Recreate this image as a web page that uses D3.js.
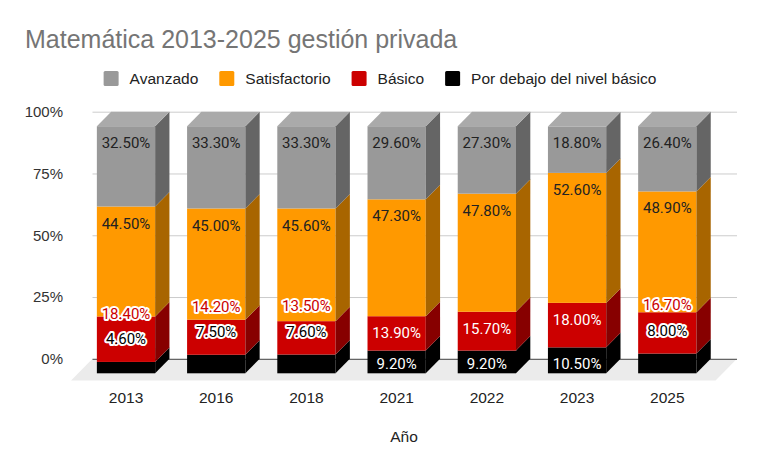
<!DOCTYPE html>
<html>
<head>
<meta charset="utf-8">
<script src="https://cdn.jsdelivr.net/npm/d3@7"></script>
<style>
  body { margin: 0; background: #fff; }
  svg { display: block; font-family: "Liberation Sans", Arial, sans-serif; }
</style>
</head>
<body>
<svg id="chart" width="760" height="470"></svg>
<script>
var years = ["2013", "2016", "2018", "2021", "2022", "2023", "2025"];

// porcentajes por nivel (de abajo hacia arriba en la pila)
var debajo        = [4.6, 7.5, 7.6, 9.2, 9.2, 10.5, 8.0];
var basico        = [18.4, 14.2, 13.5, 13.9, 15.7, 18.0, 16.7];
var satisfactorio = [44.5, 45.0, 45.6, 47.3, 47.8, 52.6, 48.9];
var avanzado      = [32.5, 33.3, 33.3, 29.6, 27.3, 18.8, 26.4];

var seriesKeys   = ["debajo", "basico", "satisfactorio", "avanzado"];
var seriesNames  = ["Por debajo del nivel básico", "Básico", "Satisfactorio", "Avanzado"];
var seriesColors = ["#000000", "#cc0000", "#ff9900", "#999999"];
var legendOrder  = ["avanzado", "satisfactorio", "basico", "debajo"];
var yTicks = [0, 25, 50, 75, 100];

var svg = d3.select("#chart");

var depthX = 14.3, depthY = 14.5;
var wallLeft = 92.5, wallRight = 737;

var rows = years.map(function(y, i) {
  return { year: y, debajo: debajo[i], basico: basico[i], satisfactorio: satisfactorio[i], avanzado: avanzado[i] };
});
var stacked = d3.stack().keys(seriesKeys)(rows);

var x = d3.scaleBand().domain(years).range([80.9, 712.4]).paddingInner(0.354).paddingOuter(0.177);
var yBack = d3.scaleLinear().domain([0, 100]).range([358.8, 111.7]);
var yFront = function(v) { return yBack(v) + depthY; };

var colorOf = d3.scaleOrdinal().domain(seriesKeys).range(seriesColors);
var nameOf = d3.scaleOrdinal().domain(seriesKeys).range(seriesNames);

// piso
var floorY = yBack(0);
svg.append("polygon")
  .attr("points", [
    [wallLeft, floorY], [wallRight, floorY],
    [wallRight - depthX * 1.5, floorY + depthY * 1.5], [wallLeft - depthX * 1.5, floorY + depthY * 1.5]
  ].join(" "))
  .attr("fill", "#ebebeb");

// grilla + eje y
var yAxis = d3.axisLeft(yBack).tickValues(yTicks)
  .tickFormat(function(d) { return d + "%"; })
  .tickSize(-(wallRight - wallLeft)).tickPadding(29.5);
var gy = svg.append("g").attr("transform", "translate(" + wallLeft + ",0)").call(yAxis);
gy.select(".domain").remove();
gy.selectAll(".tick line").attr("stroke", function(d) { return d === 0 ? "#444" : "#cccccc"; });
gy.selectAll(".tick text")
  .attr("font-size", 15).attr("fill", "#333")
  .attr("font-family", "'Liberation Sans', Arial, sans-serif");

var shade = function(c, k) {
  var h = d3.rgb(c);
  return d3.rgb(h.r * k, h.g * k, h.b * k).toString();
};

// barras 3D
var bars = svg.append("g");
years.forEach(function(yr, i) {
  var xL = x(yr), xR = x(yr) + x.bandwidth();
  var g = bars.append("g");
  stacked.forEach(function(s) {
    var v0 = s[i][0], v1 = s[i][1];
    var yT = yFront(v1), yB = yFront(v0);
    var c = colorOf(s.key);
    g.append("rect")
      .attr("x", xL).attr("y", yT)
      .attr("width", xR - xL).attr("height", yB - yT)
      .attr("fill", c);
    g.append("polygon")
      .attr("points", [[xR, yT], [xR + depthX, yT - depthY], [xR + depthX, yB - depthY], [xR, yB]].join(" "))
      .attr("fill", shade(c, 0.66));
  });
  var top = stacked[stacked.length - 1][i][1];
  var yTop = yFront(top);
  g.append("polygon")
    .attr("points", [[xL, yTop], [xR, yTop], [xR + depthX, yTop - depthY], [xL + depthX, yTop - depthY]].join(" "))
    .attr("fill", d3.rgb(colorOf("avanzado")).brighter(0.3).toString());
});

// etiquetas de datos
var fmt = d3.format(".2f");
var labelColorInside = { debajo: "#ffffff", basico: "#ffffff", satisfactorio: "#222222", avanzado: "#222222" };
var labels = svg.append("g").attr("font-family", "Roboto, sans-serif").attr("font-size", 15).attr("text-anchor", "middle");

years.forEach(function(yr, i) {
  var cx = x(yr) + x.bandwidth() / 2;
  var prev = null;
  stacked.forEach(function(s) {
    var v0 = s[i][0], v1 = s[i][1];
    var yT = yFront(v1), yB = yFront(v0);
    var lab = { key: s.key, halo: false };
    if (yB - yT >= 21) {
      lab.cy = Math.min(yT + 16.7, yB - 10);
    } else {
      lab.cy = yT - depthY - 8.5;
      lab.halo = true;
    }
    if (prev && prev.cy - lab.cy < 25.5) {
      lab.cy = prev.cy - 25.5;
      lab.halo = true;
    }
    prev = lab;

    var t = labels.append("text")
      .attr("x", cx).attr("y", lab.cy).attr("dy", "0.355em")
      .text(fmt(s[i].data[s.key]) + "%");
    if (lab.halo) {
      t.attr("fill", colorOf(s.key))
        .attr("stroke", "#ffffff").attr("stroke-width", 4)
        .attr("stroke-linejoin", "round").attr("paint-order", "stroke");
    } else {
      t.attr("fill", labelColorInside[s.key]);
    }
  });
});

// eje x
var xAxis = d3.axisBottom(x).tickSize(0).tickPadding(11);
var gx = svg.append("g").attr("transform", "translate(0," + (floorY + depthY * 1.5) + ")").call(xAxis);
gx.select(".domain").remove();
gx.selectAll(".tick text")
  .attr("font-size", 15.5).attr("fill", "#222")
  .attr("font-family", "'Liberation Sans', Arial, sans-serif");

svg.append("text")
  .attr("x", 404).attr("y", 442)
  .attr("text-anchor", "middle")
  .attr("font-size", 15.5).attr("fill", "#222")
  .text("Año");

// título
svg.append("text")
  .attr("x", 25).attr("y", 47.7)
  .attr("font-size", 25).attr("fill", "#757575")
  .text("Matemática 2013-2025 gestión privada");

// leyenda
var legend = svg.append("g");
var lx = 0;
legendOrder.forEach(function(k) {
  var item = legend.append("g").attr("transform", "translate(" + lx + ",0)");
  item.append("rect")
    .attr("x", 0).attr("y", 71).attr("width", 15).attr("height", 15)
    .attr("rx", 1.5).attr("fill", colorOf(k));
  var t = item.append("text")
    .attr("x", 26).attr("y", 84.3)
    .attr("font-size", 15.5).attr("fill", "#222")
    .text(nameOf(k));
  lx += 26 + t.node().getComputedTextLength() + 21;
});
var legendWidth = lx - 21;
legend.attr("transform", "translate(" + (380 - legendWidth / 2) + ",0)");
</script>
</body>
</html>
